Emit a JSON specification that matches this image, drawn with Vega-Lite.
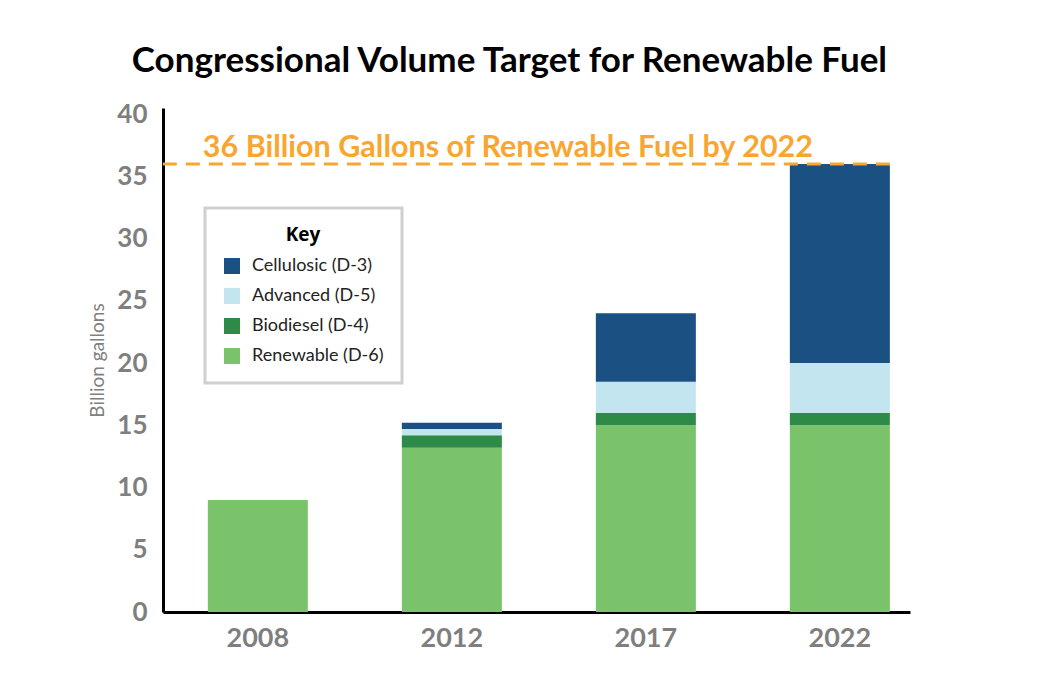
{
  "$schema": "https://vega.github.io/schema/vega-lite/v6.json",
  "autosize": "none",
  "width": 747,
  "height": 504,
  "padding": {"left": 163, "top": 108, "right": 135, "bottom": 83},
  "background": "white",
  "title": {
    "text": "Congressional Volume Target for Renewable Fuel",
    "font": "Lato",
    "fontSize": 35,
    "fontWeight": "bold",
    "color": "#000000",
    "anchor": "middle",
    "frame": "bounds",
    "offset": 22,
    "dx": 10
  },
  "config": {
    "view": {"stroke": null},
    "axis": {"grid": false, "ticks": false, "domainColor": "#000000", "domainWidth": 3}
  },
  "data": {
    "values": [
      {"year": "2008", "type": "Renewable (D-6)", "value": 9.0, "order": 1},
      {"year": "2012", "type": "Renewable (D-6)", "value": 13.2, "order": 1},
      {"year": "2012", "type": "Biodiesel (D-4)", "value": 1.0, "order": 2},
      {"year": "2012", "type": "Advanced (D-5)", "value": 0.5, "order": 3},
      {"year": "2012", "type": "Cellulosic (D-3)", "value": 0.5, "order": 4},
      {"year": "2017", "type": "Renewable (D-6)", "value": 15.0, "order": 1},
      {"year": "2017", "type": "Biodiesel (D-4)", "value": 1.0, "order": 2},
      {"year": "2017", "type": "Advanced (D-5)", "value": 2.5, "order": 3},
      {"year": "2017", "type": "Cellulosic (D-3)", "value": 5.5, "order": 4},
      {"year": "2022", "type": "Renewable (D-6)", "value": 15.0, "order": 1},
      {"year": "2022", "type": "Biodiesel (D-4)", "value": 1.0, "order": 2},
      {"year": "2022", "type": "Advanced (D-5)", "value": 4.0, "order": 3},
      {"year": "2022", "type": "Cellulosic (D-3)", "value": 16.0, "order": 4}
    ]
  },
  "encoding": {
    "x": {
      "field": "year",
      "type": "nominal",
      "scale": {"paddingInner": 0.4845, "paddingOuter": 0.1675, "align": 0.69},
      "axis": {
        "title": null,
        "labelAngle": 0,
        "labelFont": "Lato",
        "labelFontSize": 27,
        "labelFontWeight": "bold",
        "labelColor": "#7f7f7f",
        "labelPadding": 13
      }
    }
  },
  "layer": [
    {
      "mark": {"type": "bar"},
      "encoding": {
        "y": {
          "field": "value",
          "type": "quantitative",
          "aggregate": "sum",
          "stack": "zero",
          "scale": {"domain": [0, 40.5], "nice": false},
          "axis": {
            "title": "Billion gallons",
            "titleFont": "Lato",
            "titleFontSize": 19,
            "titleFontWeight": "normal",
            "titleColor": "#808080",
            "titlePadding": 9,
            "values": [0, 5, 10, 15, 20, 25, 30, 35, 40],
            "labelFont": "Lato",
            "labelFontSize": 26,
            "labelFontWeight": "bold",
            "labelColor": "#7f7f7f",
            "labelPadding": 16
          }
        },
        "color": {
          "field": "type",
          "type": "nominal",
          "scale": {
            "domain": ["Cellulosic (D-3)", "Advanced (D-5)", "Biodiesel (D-4)", "Renewable (D-6)"],
            "range": ["#1b5082", "#c2e5f0", "#2e8b47", "#7ac36a"]
          },
          "legend": {
            "title": "Key",
            "orient": "none",
            "legendX": 42,
            "legendY": 100,
            "titleFont": "Open Sans",
            "titleFontSize": 19,
            "titleFontWeight": "bold",
            "titleColor": "#000000",
            "titleAnchor": "middle",
            "titleAlign": "center",
            "titlePadding": 12,
            "labelFont": "Lato",
            "labelFontSize": 18,
            "labelColor": "#222222",
            "labelOffset": 11,
            "symbolType": "square",
            "symbolSize": 256,
            "symbolStrokeWidth": 0,
            "symbolOpacity": 1,
            "rowPadding": 12,
            "padding": 18,
            "strokeColor": "#d0d0d0",
            "fillColor": "white",
            "labelLimit": 400,
            "encode": {"legend": {"update": {"strokeWidth": {"value": 3}}}}
          }
        },
        "order": {"field": "order", "type": "quantitative", "sort": "ascending"}
      }
    },
    {
      "data": {"values": [{"target": 36, "label": "36 Billion Gallons of Renewable Fuel by 2022"}]},
      "mark": {"type": "rule", "color": "#f9a630", "strokeWidth": 3, "strokeDash": [14, 9]},
      "encoding": {
        "y": {"field": "target", "type": "quantitative"},
        "x": {"datum": "2008", "bandPosition": -0.45},
        "x2": {"datum": "2022", "bandPosition": 1}
      }
    },
    {
      "data": {"values": [{"target": 36, "label": "36 Billion Gallons of Renewable Fuel by 2022"}]},
      "mark": {"type": "text", "color": "#f9a630", "font": "Lato", "fontSize": 30.5, "fontWeight": "bold", "align": "left", "baseline": "alphabetic", "dy": -7},
      "encoding": {
        "y": {"field": "target", "type": "quantitative"},
        "x": {"datum": "2008", "bandPosition": -0.05},
        "text": {"field": "label"}
      }
    }
  ]
}
